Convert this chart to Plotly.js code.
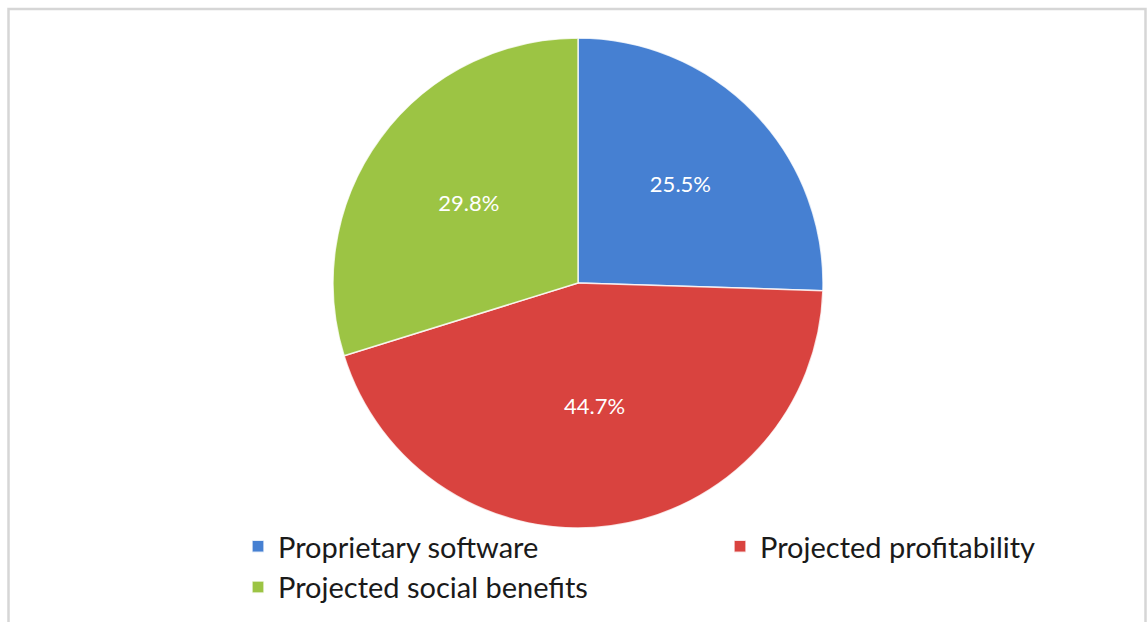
<!DOCTYPE html>
<html>
<head>
<meta charset="utf-8">
<script src="https://cdn.plot.ly/plotly-3.0.1.min.js"></script>
<style>html,body{margin:0;padding:0;background:#fff;}#chart{width:1147px;height:622px;}</style>
</head>
<body>
<div id="chart"></div>
<script>
const categories = ["Proprietary software", "Projected profitability", "Projected social benefits"];
const shares = [25.5, 44.7, 29.8];
const sliceColors = ["#4680d2", "#d9433f", "#9cc444"];

const W = 1147, H = 622;
const trace = {
  type: "pie",
  labels: categories,
  values: shares,
  sort: false,
  direction: "clockwise",
  rotation: 0,
  marker: {colors: sliceColors, line: {color: "rgba(255,255,255,0.8)", width: 1.5}},
  texttemplate: "%{value:.1f}%",
  textposition: "inside",
  insidetextorientation: "horizontal",
  insidetextfont: {color: "#ffffff", size: 22, family: "Lato, 'Liberation Sans', sans-serif"},
  hoverinfo: "label+percent",
  domain: {x: [333 / W, 823 / W], y: [(H - 528) / H, (H - 38) / H]}
};

const layout = {
  width: W, height: H,
  margin: {l: 0, r: 0, t: 0, b: 0, autoexpand: false},
  paper_bgcolor: "#ffffff",
  plot_bgcolor: "#ffffff",
  showlegend: true,
  legend: {
    orientation: "h",
    x: 238 / W, xanchor: "left",
    y: (H - 521) / H, yanchor: "top",
    entrywidth: 437, entrywidthmode: "pixels",
    bgcolor: "rgba(0,0,0,0)",
    font: {size: 29, color: "#1a1a1a", family: "Lato, 'Liberation Sans', sans-serif"},
    traceorder: "normal",
    itemclick: false
  },
  shapes: [{
    type: "rect", xref: "paper", yref: "paper",
    x0: 8.5 / W, x1: 1145.5 / W, y0: -0.05, y1: (H - 9) / H,
    line: {color: "#d6d6d6", width: 2.5}, fillcolor: "rgba(0,0,0,0)", layer: "below"
  }]
};

Plotly.newPlot("chart", [trace], layout, {displayModeBar: false, staticPlot: true});
</script>
</body>
</html>
